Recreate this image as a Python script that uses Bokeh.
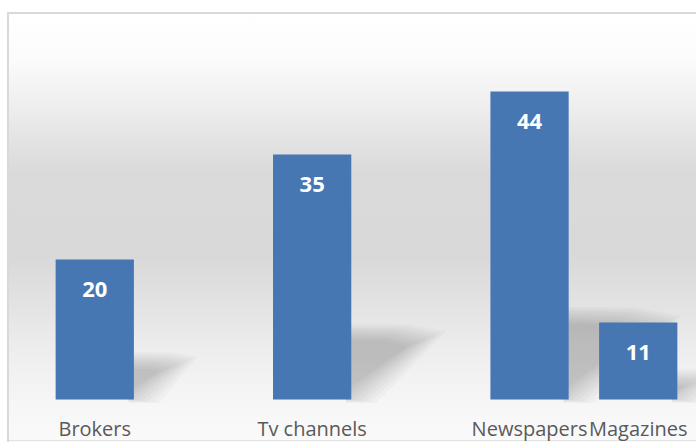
from bokeh.plotting import figure
from bokeh.models import FactorRange, Range1d, ColumnDataSource
from bokeh.core.properties import value
from bokeh.embed import file_html
from bokeh.resources import INLINE

# ---- data ----
categories = ["Brokers", "Tv channels", "Newspapers", "Magazines"]
groups = ["a", "b", "c", "c"]
values = [20, 35, 44, 11]

factors = list(zip(groups, categories))

x_range = FactorRange(factors=factors, group_padding=1.0, factor_padding=0.0,
                      subgroup_padding=0.0, range_padding=0.036,
                      range_padding_units="absolute")

bg = ("linear-gradient(#d9d9d9,#d9d9d9) 7px 12px / 100% 2px no-repeat, "
      "linear-gradient(#d9d9d9,#d9d9d9) 7px 12px / 2px 100% no-repeat, "
      "linear-gradient(#e3e3e3,#e3e3e3) 7px 440px / 100% 1px no-repeat, "
      "linear-gradient(#ffffff,#ffffff) 0 0 / 7px 100% no-repeat, "
      "linear-gradient(to bottom, #ffffff 0px, #ffffff 14px, #fdfdfd 40px, #fbfbfb 60px, "
      "#ededed 110px, #e2e2e2 143px, #dadada 173px, #d9d9d9 258px, #e4e4e4 310px, "
      "#ececec 343px, #f2f2f2 377px, #f7f7f7 410px, #fafafa 442px)")

p = figure(width=696, height=442, x_range=x_range, y_range=Range1d(-6.143, 55.286),
           output_backend="svg", toolbar_location=None,
           x_axis_location=None, y_axis_location=None,
           min_border_left=36, min_border_right=0, min_border_top=12, min_border_bottom=0,
           background_fill_alpha=0, border_fill_alpha=0, outline_line_color=None,
           styles={"background": bg})
p.xgrid.grid_line_color = None
p.ygrid.grid_line_color = None

bar_w = 0.72
half = bar_w / 2
PX_X = 108.7   # pixels per x unit (style constant for the blur)
PX_Y = 7.0     # pixels per y unit

# ---- soft floor shadows (shape derived from each bar's value) ----
for e in [14, 11, 8, 5, 2, -1, -4, -7, -10]:
    xs, ys = [], []
    for f, v in zip(factors, values):
        h = 0.27 * v + 0.7 * e / PX_Y
        lx = 0.019 * v + 1.6 * e / PX_X
        a_x = half + 1.8 * e / PX_X
        a_y = -max(e, 0) * 0.25 / PX_Y
        xs.append([(f[0], f[1], half - 0.05), (f[0], f[1], half - 0.05),
                   (f[0], f[1], half + 0.6 * lx), (f[0], f[1], half + lx),
                   (f[0], f[1], a_x)])
        ys.append([a_y, h, 0.99 * h, 0.9 * h, a_y])
    p.patches(xs=xs, ys=ys, fill_color="black", fill_alpha=0.025, line_color=None)

# ---- bars ----
src = ColumnDataSource(dict(x=factors, top=values, label=[str(v) for v in values]))
p.vbar(x="x", top="top", bottom=0, width=bar_w, source=src,
       fill_color="#4677b2", line_color=None)

# ---- value labels ----
p.text(x="x", y="top", text="label", source=src, text_align="center",
       text_baseline="middle", y_offset=30, text_color="white",
       text_font=value("Open Sans"), text_font_style="bold", text_font_size="22px")

# ---- category labels ----
csrc = ColumnDataSource(dict(x=factors, y=[0] * len(categories), label=categories))
p.text(x="x", y="y", text="label", source=csrc, text_align="center",
       text_baseline="alphabetic", y_offset=29, text_color="#595959",
       text_font=value("Open Sans"), text_font_size="20px")

open("out.html", "w").write(file_html(p, INLINE))
